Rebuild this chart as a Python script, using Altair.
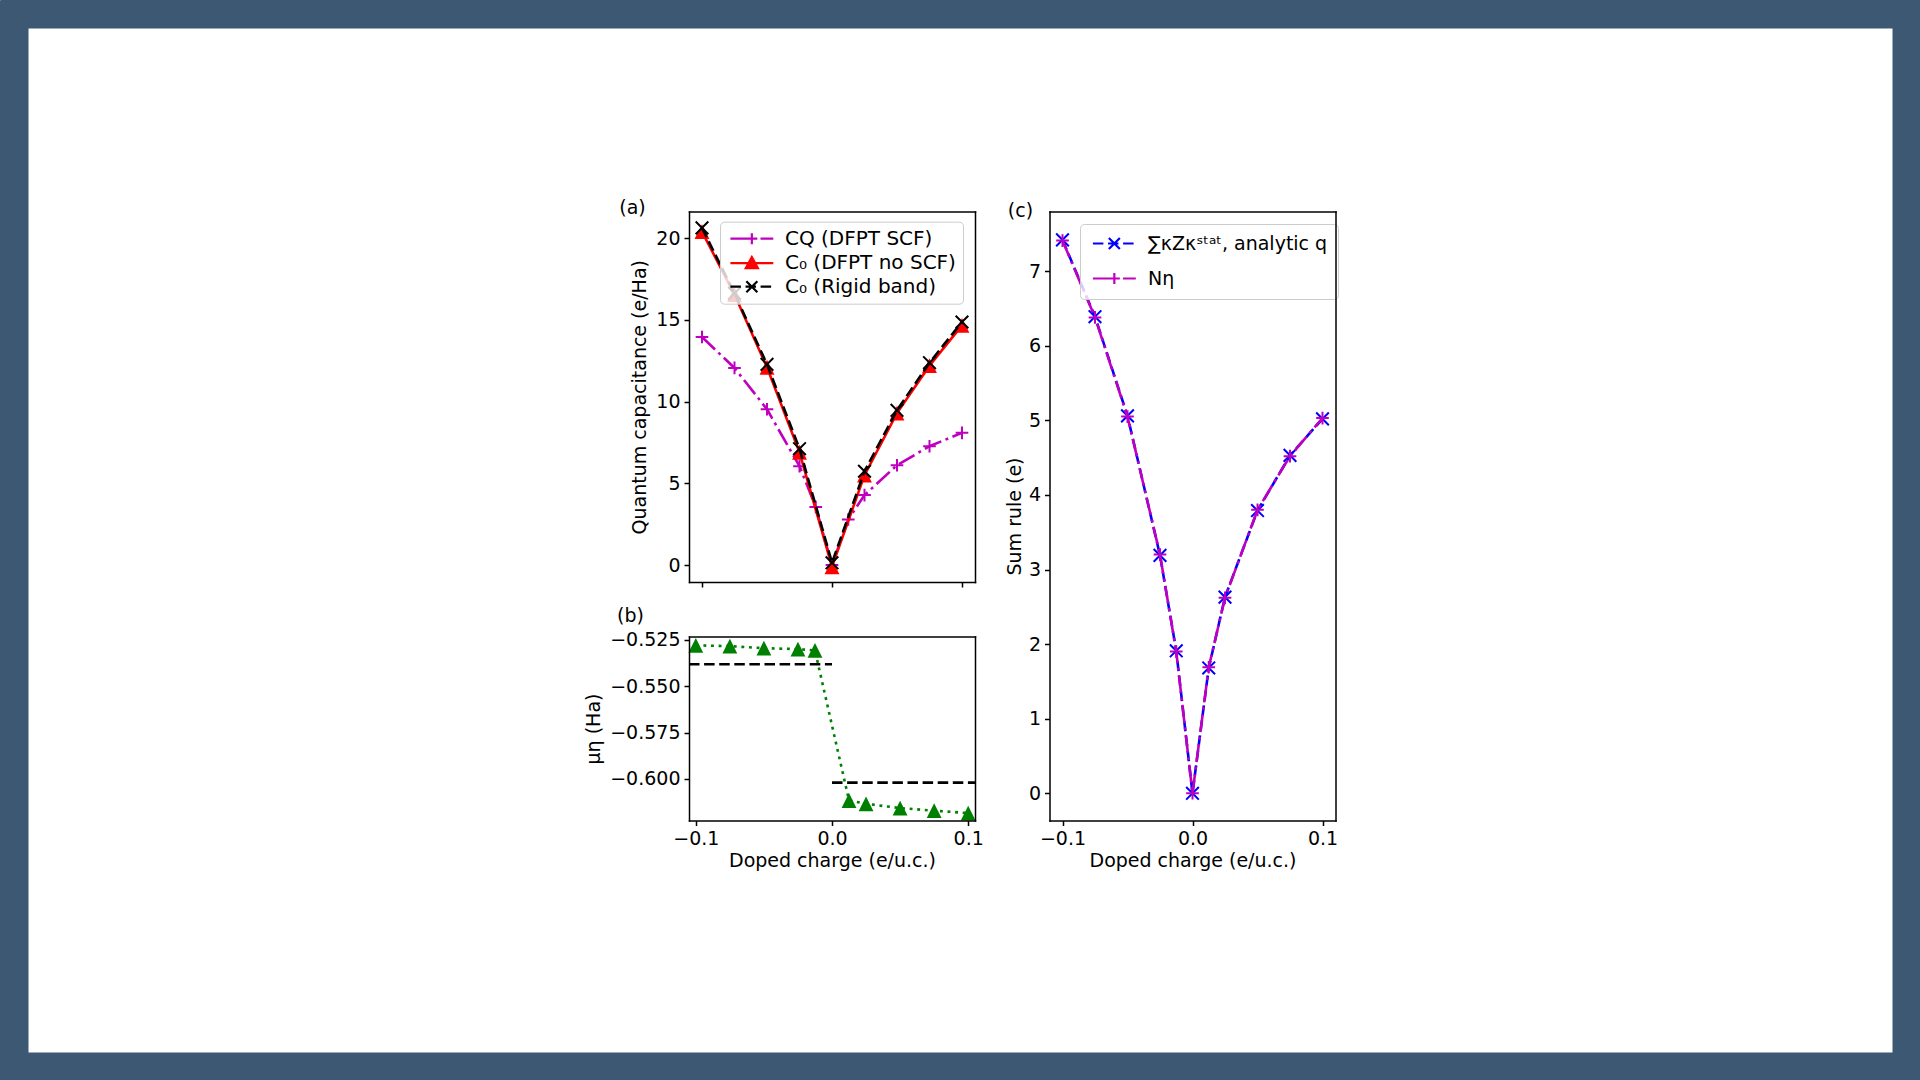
import altair as alt
import pandas as pd

# ------------------------------------------------------------------ data
# panel (a): quantum capacitance
doping_a = [-0.1, -0.075, -0.05, -0.025, -0.0125, 0.0, 0.0125, 0.025, 0.05, 0.075, 0.1]
cq_dfpt_scf = [13.95, 12.06, 9.53, 6.05, 3.55, 0.0, 2.79, 4.28, 6.11, 7.27, 8.09]
doping_c0 = [-0.1, -0.075, -0.05, -0.025, 0.0, 0.025, 0.05, 0.075, 0.1]
c0_dfpt_noscf = [20.40, 16.55, 12.10, 6.90, -0.10, 5.50, 9.30, 12.20, 14.66]
c0_rigid_band = [20.63, 16.62, 12.28, 7.12, 0.14, 5.74, 9.47, 12.38, 14.87]

# panel (b): chemical potential
doping_b = [-0.1, -0.075, -0.05, -0.025, -0.0125, 0.0125, 0.025, 0.05, 0.075, 0.1]
mu_eta = [-0.5280, -0.5284, -0.5295, -0.5300, -0.5307,
          -0.6116, -0.6134, -0.6157, -0.6171, -0.6184]
mu_ref_level = [-0.5382, -0.6020]
mu_ref_from = [-0.105, 0.0]
mu_ref_to = [0.0, 0.105]

# panel (c): sum rule
doping_c = [-0.1, -0.075, -0.05, -0.025, -0.0125, 0.0, 0.0125, 0.025, 0.05, 0.075, 0.1]
sum_z_stat = [7.42, 6.39, 5.06, 3.19, 1.91, 0.0, 1.68, 2.63, 3.79, 4.53, 5.02]
n_eta = [7.41, 6.38, 5.05, 3.20, 1.90, 0.0, 1.69, 2.62, 3.80, 4.52, 5.03]

legend_a_labels = ["CQ (DFPT SCF)", "C₀ (DFPT no SCF)", "C₀ (Rigid band)"]
legend_c_labels = ["∑κZκˢᵗᵃᵗ, analytic q", "Nη"]

tick_x = [-0.1, 0.0, 0.1]
tick_a_y = [0, 5, 10, 15, 20]
tick_b_y = [-0.525, -0.55, -0.575, -0.6]
tick_c_y = [0, 1, 2, 3, 4, 5, 6, 7]

# ------------------------------------------------------------------ style / layout
W, H = 1920, 1080
FONT = "DejaVu Sans"
BORDER = "#3c5873"
MAG, RED, BLK, GRN, BLU = "#bf00bf", "#ff0000", "#000000", "#008000", "#0000ff"
LW = 2.6
DASHED = [10.5, 4.6]
DASHDOT = [18, 4.6, 2.9, 4.6]
DOTTED = [2.9, 4.7]
TRI_SIZE = 220
CROSS_SIZE = 160

A_XR, A_YR = [689, 975], [582, 211.5]
B_XR, B_YR = [689, 975], [820.5, 636.5]
C_XR, C_YR = [1049.5, 1335.5], [820.5, 211.5]
A_XD, A_YD = [-0.11, 0.11], [-1.035, 21.63]
B_XD, B_YD = [-0.105, 0.105], [-0.6224, -0.5232]
C_XD, C_YD = [-0.11, 0.11], [-0.365, 7.80]

PLUS = "M-1,0L1,0M0,-1L0,1"
XMARK = "M-1,-1L1,1M-1,1L1,-1"
TRI = "M0,-1L1,1L-1,1Z"

U = 5.5
SYM_SIZE = (2 * U) ** 2


def seg_path(x0, x1, pattern_px):
    if pattern_px is None:
        return f"M{x0:.2f},0L{x1:.2f},0"
    pat = [p / U for p in pattern_px]
    out, x, i = [], x0, 0
    while x < x1 - 1e-6:
        end = min(x + pat[i % len(pat)], x1)
        if i % 2 == 0:
            out.append(f"M{x:.2f},0L{end:.2f},0")
        x = end
        i += 1
    return "".join(out)


def sym(pattern, marker):
    c = 2.7
    line = seg_path(-1.2, 6.6, pattern)
    if marker == "plus":
        m = f"M{c-1},0L{c+1},0M{c},-1L{c},1"
    elif marker == "x":
        m = f"M{c-1},-1L{c+1},1M{c-1},1L{c+1},-1"
    else:
        m = f"M{c},-1.1L{c+1.1},0.9L{c-1.1},0.9Z"
    return line + m


def scl(dom, rng):
    return alt.Scale(domain=dom, range=rng, nice=False, zero=False)


def pos(xd, xr, yd, yr, xaxis=None, yaxis=None, x="doping", y="value"):
    return dict(x=alt.X(f"{x}:Q", scale=scl(xd, xr), axis=xaxis),
                y=alt.Y(f"{y}:Q", scale=scl(yd, yr), axis=yaxis))


def bottom_axis(ypix, labels, title):
    return alt.Axis(orient="bottom", offset=-(H - ypix), values=tick_x, labels=labels,
                    format=".1f", titlePadding=3, zindex=1, title=title)


def left_axis(xpix, values, fmt, title, tpad):
    return alt.Axis(orient="left", offset=-xpix, values=values, format=fmt,
                    title=title, titlePadding=tpad, zindex=1)


def top_frame(ypix, label, tx, ty):
    return alt.Axis(orient="top", offset=-ypix, labels=False, ticks=False,
                    title=label, titleX=tx, titleY=ty - ypix, titleAngle=0,
                    titleAlign="center", titleBaseline="middle", zindex=1)


def right_frame(xpix):
    return alt.Axis(orient="right", offset=-(W - xpix), labels=False, ticks=False,
                    title=None, zindex=1)


def edge_axis(orient):
    return alt.Axis(orient=orient, offset=0, labels=False, ticks=False, title=None,
                    domainWidth=56, domainColor=BORDER, domainCap="butt", zindex=1)


def legend_layer(labels, colors, fills, paths, lx, ly, pad, rowpad, fsize, loff):
    leg = alt.Legend(orient="none", legendX=lx, legendY=ly, title=None,
                     padding=pad, rowPadding=rowpad, labelOffset=loff,
                     labelFontSize=fsize,
                     symbolSize=SYM_SIZE, symbolStrokeWidth=2.2, symbolOpacity=1,
                     fillColor="rgba(255,255,255,0.8)", strokeColor="#cccccc",
                     cornerRadius=4, labelLimit=0)
    d = pd.DataFrame({"series": pd.Series([], dtype=str)})
    return alt.Chart(d).mark_point(opacity=1, filled=True, size=SYM_SIZE).encode(
        shape=alt.Shape("series:N", scale=alt.Scale(domain=labels, range=paths), legend=leg),
        stroke=alt.Stroke("series:N", scale=alt.Scale(domain=labels, range=colors), legend=leg),
        fill=alt.Fill("series:N", scale=alt.Scale(domain=labels, range=fills), legend=leg),
    )


# ------------------------------------------------------------------ panel (a)
df_cq = pd.DataFrame({"doping": doping_a, "value": cq_dfpt_scf})
df_noscf = pd.DataFrame({"doping": doping_c0, "value": c0_dfpt_noscf})
df_rigid = pd.DataFrame({"doping": doping_c0, "value": c0_rigid_band})

# card border (drawn as thick axis domains around the whole canvas)
border_layers = [
    alt.Chart(df_cq).mark_point(opacity=0).encode(
        **pos(A_XD, [0, W], A_YD, [H, 0], edge_axis("bottom"), edge_axis("left"))),
    alt.Chart(df_cq).mark_point(opacity=0).encode(
        **pos(A_XD, [0, W], A_YD, [H, 0], edge_axis("top"), edge_axis("right"))),
]

a_layers = [
    alt.Chart(df_cq).mark_line(color=MAG, strokeWidth=LW, strokeDash=DASHDOT).encode(
        **pos(A_XD, A_XR, A_YD, A_YR,
              bottom_axis(A_YR[0], False, None),
              left_axis(A_XR[0], tick_a_y, "d", "Quantum capacitance (e/Ha)", 6))),
    alt.Chart(df_cq).mark_point(shape=PLUS, size=CROSS_SIZE, color=MAG, strokeWidth=2,
                                filled=False, opacity=1).encode(
        **pos(A_XD, A_XR, A_YD, A_YR,
              top_frame(A_YR[1], "(a)", 632, 207), right_frame(A_XR[1]))),
    alt.Chart(df_noscf).mark_line(color=RED, strokeWidth=LW).encode(
        **pos(A_XD, A_XR, A_YD, A_YR)),
    alt.Chart(df_noscf).mark_point(shape=TRI, size=TRI_SIZE, color=RED, filled=True,
                                   opacity=1).encode(
        **pos(A_XD, A_XR, A_YD, A_YR)),
    alt.Chart(df_rigid).mark_line(color=BLK, strokeWidth=LW, strokeDash=DASHED).encode(
        **pos(A_XD, A_XR, A_YD, A_YR)),
    alt.Chart(df_rigid).mark_point(shape=XMARK, size=CROSS_SIZE, color=BLK, strokeWidth=2,
                                   filled=False, opacity=1).encode(
        **pos(A_XD, A_XR, A_YD, A_YR)),
]

# ------------------------------------------------------------------ panel (b)
df_mu = pd.DataFrame({"doping": doping_b, "value": mu_eta})
df_ref = pd.DataFrame({"x0": mu_ref_from, "x1": mu_ref_to, "value": mu_ref_level})

b_layers = [
    alt.Chart(df_mu).mark_line(color=GRN, strokeWidth=LW, strokeDash=DOTTED).encode(
        **pos(B_XD, B_XR, B_YD, B_YR,
              bottom_axis(B_YR[0], True, "Doped charge (e/u.c.)"),
              left_axis(B_XR[0], tick_b_y, ".3f", "μη (Ha)", 6))),
    alt.Chart(df_mu).mark_point(shape=TRI, size=TRI_SIZE, color=GRN, filled=True,
                                opacity=1).encode(
        **pos(B_XD, B_XR, B_YD, B_YR,
              top_frame(B_YR[1], "(b)", 630, 615), right_frame(B_XR[1]))),
    alt.Chart(df_ref).mark_rule(color=BLK, strokeWidth=LW, strokeDash=DASHED).encode(
        x=alt.X("x0:Q", scale=scl(B_XD, B_XR), axis=None),
        x2=alt.X2("x1:Q"),
        y=alt.Y("value:Q", scale=scl(B_YD, B_YR), axis=None)),
]

# ------------------------------------------------------------------ panel (c)
df_z = pd.DataFrame({"doping": doping_c, "value": sum_z_stat})
df_n = pd.DataFrame({"doping": doping_c, "value": n_eta})

c_layers = [
    alt.Chart(df_z).mark_line(color=BLU, strokeWidth=LW, strokeDash=DASHED).encode(
        **pos(C_XD, C_XR, C_YD, C_YR,
              bottom_axis(C_YR[0], True, "Doped charge (e/u.c.)"),
              left_axis(C_XR[0], tick_c_y, "d", "Sum rule (e)", 4))),
    alt.Chart(df_z).mark_point(shape=XMARK, size=CROSS_SIZE, color=BLU, strokeWidth=2,
                               filled=False, opacity=1).encode(
        **pos(C_XD, C_XR, C_YD, C_YR,
              top_frame(C_YR[1], "(c)", 1020, 210), right_frame(C_XR[1]))),
    alt.Chart(df_n).mark_line(color=MAG, strokeWidth=LW, strokeDash=DASHDOT).encode(
        **pos(C_XD, C_XR, C_YD, C_YR)),
    alt.Chart(df_n).mark_point(shape=PLUS, size=CROSS_SIZE, color=MAG, strokeWidth=2,
                               filled=False, opacity=1).encode(
        **pos(C_XD, C_XR, C_YD, C_YR)),
]

# ------------------------------------------------------------------ legends
leg_a = legend_layer(
    legend_a_labels, [MAG, RED, BLK], ["transparent", RED, "transparent"],
    [sym(DASHDOT, "plus"), sym(None, "tri"), sym(DASHED, "x")],
    720, 221.7, 7, 3.5, 20, 38)
leg_c = legend_layer(
    legend_c_labels, [BLU, MAG], ["transparent", "transparent"],
    [sym(DASHED, "x"), sym(DASHDOT, "plus")],
    1080, 224, 10, 14, 19, 39)

layers = border_layers + a_layers + b_layers + c_layers + [leg_a, leg_c]

chart = (
    alt.layer(*layers)
    .resolve_scale(x="independent", y="independent", shape="independent",
                   stroke="independent", fill="independent")
    .resolve_axis(x="independent", y="independent")
    .resolve_legend(shape="independent", stroke="independent", fill="independent")
    .properties(width=W, height=H, padding=0,
                autosize=alt.AutoSizeParams(type="none"), background="white")
    .configure_view(strokeWidth=0)
    .configure_axis(grid=False, domainColor="black", domainWidth=1.5, domainCap="square",
                    tickColor="black", tickWidth=1.5, tickSize=5, labelPadding=4,
                    labelFont=FONT, labelFontSize=19, labelColor="black",
                    titleFont=FONT, titleFontSize=19, titleFontWeight="normal",
                    titleColor="black", labelFlush=False, labelOverlap=False)
    .configure_legend(labelFont=FONT, labelColor="black")
)

chart.save("out.html", embed_options={"renderer": "svg", "actions": False})
